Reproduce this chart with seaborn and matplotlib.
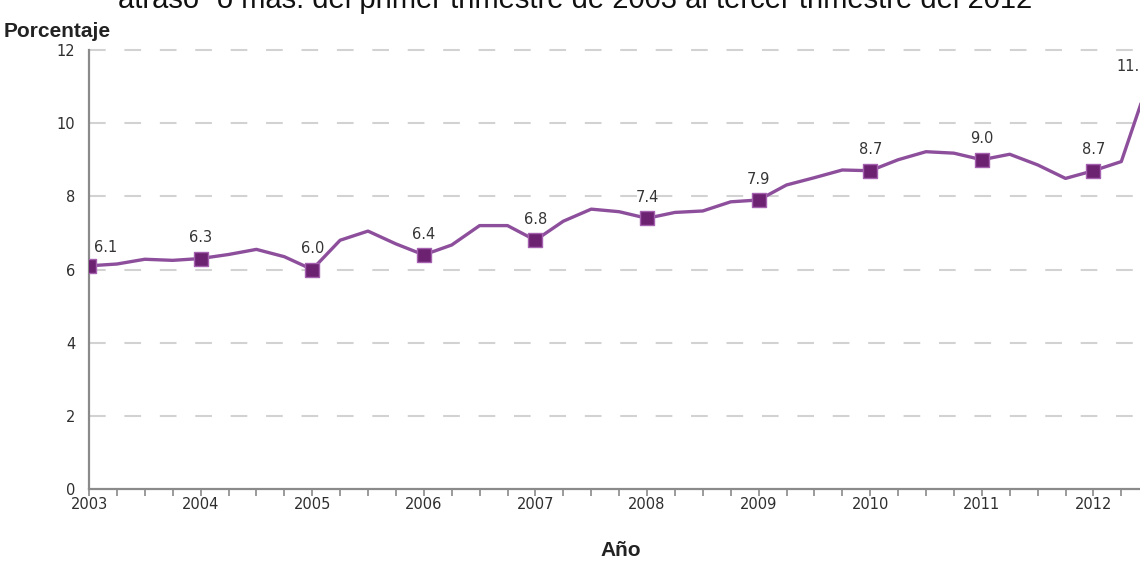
import numpy as np
import pandas as pd
import matplotlib
matplotlib.use("Agg")
import matplotlib.pyplot as plt
import seaborn as sns

# Quarterly series, 2003-Q1 to 2012-Q3
years = [2003, 2004, 2005, 2006, 2007, 2008, 2009, 2010, 2011, 2012]
quarter_values = [
    6.1, 6.15, 6.28, 6.25,
    6.3, 6.41, 6.55, 6.35,
    6.0, 6.8, 7.05, 6.7,
    6.4, 6.67, 7.2, 7.2,
    6.8, 7.32, 7.65, 7.58,
    7.4, 7.56, 7.6, 7.85,
    7.9, 8.31, 8.51, 8.72,
    8.7, 9.0, 9.22, 9.18,
    9.0, 9.15, 8.86, 8.49,
    8.7, 8.95, 11.2,
]
# Labelled points: first quarter of every year plus the last quarter
label_index = [0, 4, 8, 12, 16, 20, 24, 28, 32, 36, 38]
label_text = ["6.1", "6.3", "6.0", "6.4", "6.8", "7.4", "7.9", "8.7", "9.0", "8.7", "11.2"]
y_ticks = [0, 2, 4, 6, 8, 10, 12]

title_text = "atraso\u201d o más: del primer trimestre de 2003 al tercer trimestre del 2012"
y_title = "Porcentaje"
x_title = "Año"

t = 2003 + np.arange(len(quarter_values)) / 4.0
df = pd.DataFrame({"t": t, "valor": quarter_values})
df_pts = pd.DataFrame({"t": t[label_index],
                       "valor": [quarter_values[i] for i in label_index],
                       "txt": label_text})

sns.set_theme(style="white")
plt.rcParams["font.family"] = ["DejaVu Sans"]

W, H = 1140, 564
fig = plt.figure(figsize=(W / 100, H / 100), dpi=100)
left_px, right_px, top_px, bottom_px = 89, 1140, 50, 489
ax = fig.add_axes([left_px / W, 1 - bottom_px / H,
                   (right_px - left_px) / W, (bottom_px - top_px) / H])

line_col = "#8D4F9C"
sns.lineplot(data=df, x="t", y="valor", ax=ax, color=line_col, lw=2.4, zorder=3)
sns.scatterplot(data=df_pts, x="t", y="valor", ax=ax, marker="s", s=95,
                color="#6C2270", edgecolor="#A561B0", linewidth=1.0, zorder=4)

for i, row in df_pts.reset_index(drop=True).iterrows():
    dx, dy = 0, 15
    if i == 0:
        dx, dy = 12, 13
    elif i == len(df_pts) - 1:
        dx, dy = -12, 9
    ax.annotate(row["txt"], (row["t"], row["valor"]), xytext=(dx, dy),
                textcoords="offset points", ha="center", va="center",
                fontsize=10.5, color="#353535", annotation_clip=False, zorder=5)

x_right = 2003 + (right_px - left_px) / 111.6
ax.set_xlim(2003, x_right)
ax.set_ylim(0, 12)
ax.set_yticks(y_ticks)
ax.set_yticklabels([str(v) for v in y_ticks])
ax.set_xticks(years)
ax.set_xticklabels([str(y) for y in years])
ax.set_xticks(2003 + np.arange(0, 38) / 4.0, minor=True)
ax.tick_params(axis="x", which="both", direction="out", length=5, width=1.2,
               color="#8a8a8a", bottom=True, pad=1, labelsize=10.5, labelcolor="#2e2e2e")
ax.tick_params(axis="y", length=0, pad=10, labelsize=10.5, labelcolor="#2e2e2e")

ax.set_xlabel("")
ax.set_ylabel("")
for g in y_ticks[1:]:
    ax.axhline(g, color="#d2d2d2", lw=1.5, ls=(0, (8, 9)), zorder=1, clip_on=False)

for s in ["top", "right"]:
    ax.spines[s].set_visible(False)
for s in ["left", "bottom"]:
    ax.spines[s].set_color("#8a8a8a")
    ax.spines[s].set_linewidth(1.6)
    ax.spines[s].set_zorder(2)

fig.text(118 / W, 1 - 8 / H, title_text, fontsize=21, ha="left", va="baseline",
         family=["Liberation Sans"], color="#111111")
fig.text(4 / W, 1 - 37 / H, y_title, fontsize=15, fontweight="bold", ha="left",
         va="baseline", family=["Liberation Sans"], color="#222222")
fig.text(621 / W, 1 - 551 / H, x_title, fontsize=15, fontweight="bold", ha="center",
         va="center", family=["Liberation Sans"], color="#222222")

fig.savefig("out.png", dpi=100)
